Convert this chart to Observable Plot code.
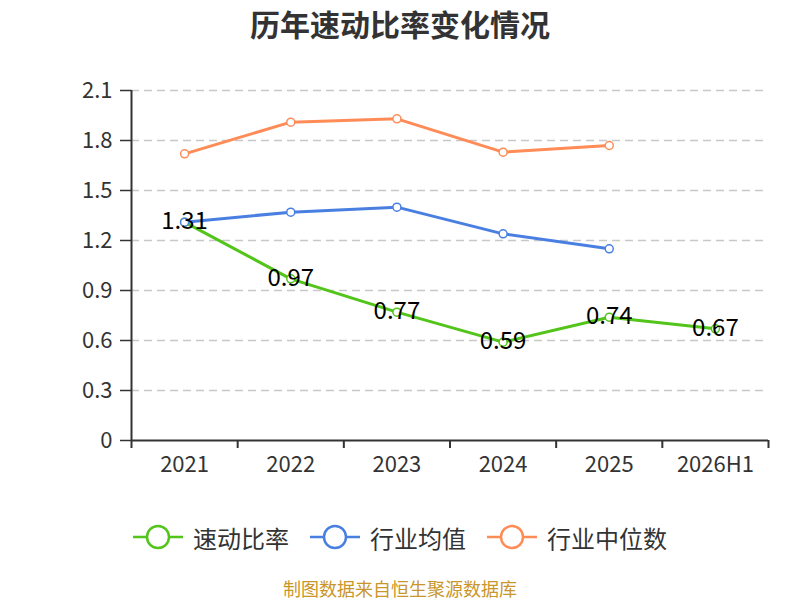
<!DOCTYPE html>
<html>
<head>
<meta charset="utf-8">
<script src="https://cdn.jsdelivr.net/npm/d3@7"></script>
<script src="https://cdn.jsdelivr.net/npm/@observablehq/plot@0.6"></script>
<style>
  html, body { margin: 0; padding: 0; background: #fff; }
  body { width: 800px; height: 600px; position: relative; overflow: hidden; font-family: "Noto Sans CJK SC", "Noto Sans", sans-serif; }
  #title { position: absolute; left: 0; top: 0; width: 800px; text-align: center; font-size: 30px; font-weight: bold; color: #333; line-height: 46px; }
  #chart { position: absolute; left: 0; top: 0; }
  #legend { position: absolute; left: 0; top: 520px; width: 800px; height: 34px; }
  .item { position: absolute; top: 0; height: 34px; display: flex; align-items: center; font-size: 24px; color: #333; white-space: nowrap; }
  .item svg { margin-right: 10px; }
  #caption { position: absolute; left: 0; top: 576px; width: 800px; text-align: center; font-size: 18px; color: #c9962b; line-height: 24px; }
</style>
</head>
<body>
<div id="title">历年速动比率变化情况</div>
<div id="chart"></div>
<div id="legend"></div>
<div id="caption">制图数据来自恒生聚源数据库</div>
<script>
const categories = ["2021", "2022", "2023", "2024", "2025", "2026H1"];
const quickRatio = [1.31, 0.97, 0.77, 0.59, 0.74, 0.67];
const industryMean = [1.31, 1.37, 1.40, 1.24, 1.15];
const industryMedian = [1.72, 1.91, 1.93, 1.73, 1.77];
const yTicks = [0, 0.3, 0.6, 0.9, 1.2, 1.5, 1.8, 2.1];
const seriesNames = ["速动比率", "行业均值", "行业中位数"];
const colors = ["#52c41a", "#4a7fe2", "#ff8c57"];

const toRows = (vals, name) => vals.map((v, i) => ({ i, v, name }));
const green = toRows(quickRatio, seriesNames[0]);
const blue = toRows(industryMean, seriesNames[1]);
const orange = toRows(industryMedian, seriesNames[2]);
const boundaries = d3.range(categories.length + 1).map(k => k - 0.5);

const font = "'Noto Sans CJK SC', 'Noto Sans', sans-serif";

const chart = Plot.plot({
  width: 800,
  height: 500,
  marginTop: 90,
  marginBottom: 60,
  marginLeft: 131,
  marginRight: 32,
  style: { fontFamily: font, background: "transparent", overflow: "visible" },
  x: { type: "linear", domain: [-0.5, categories.length - 0.5] },
  y: { domain: [0, 2.1] },
  marks: [
    Plot.gridY(yTicks.filter(t => t > 0), { stroke: "#c8c8c8", strokeOpacity: 1, strokeDasharray: "8,5", strokeWidth: 1.5 }),
    Plot.axisY({ ticks: yTicks, tickSize: 11, tickPadding: 8, fontSize: 22, color: "#333", stroke: "#333", strokeWidth: 1.5, tickFormat: d => d === 0 ? "0" : d.toFixed(1), label: null }),
    Plot.ruleX([-0.5], { y1: 0, y2: 2.1, stroke: "#333", strokeWidth: 2 }),
    Plot.axisX({ ticks: boundaries, tickSize: 8, tickFormat: () => "", stroke: "#333", strokeWidth: 2, label: null }),
    Plot.ruleY([0], { stroke: "#333", strokeWidth: 2 }),
    Plot.axisX({ ticks: d3.range(categories.length), tickSize: 0, tickPadding: 16, fontSize: 22, color: "#333", tickFormat: i => categories[i], label: null }),
    Plot.line(green, { x: "i", y: "v", stroke: colors[0], strokeWidth: 3 }),
    Plot.dot(green, { x: "i", y: "v", r: 4, fill: "#fff", stroke: colors[0], strokeWidth: 1.5 }),
    Plot.line(blue, { x: "i", y: "v", stroke: colors[1], strokeWidth: 3 }),
    Plot.dot(blue, { x: "i", y: "v", r: 4, fill: "#fff", stroke: colors[1], strokeWidth: 1.5 }),
    Plot.line(orange, { x: "i", y: "v", stroke: colors[2], strokeWidth: 3 }),
    Plot.dot(orange, { x: "i", y: "v", r: 4, fill: "#fff", stroke: colors[2], strokeWidth: 1.5 }),
    Plot.text(green, { x: "i", y: "v", text: d => d.v.toFixed(2), fontSize: 24, fill: "#000", textAnchor: "middle", dy: -1 })
  ]
});
document.getElementById("chart").appendChild(chart);

// Legend
const legend = document.getElementById("legend");
const lefts = [133, 310, 487];
seriesNames.forEach((name, k) => {
  const item = document.createElement("div");
  item.className = "item";
  item.style.left = lefts[k] + "px";
  item.innerHTML = `<svg width="50" height="26" viewBox="0 0 50 26"><line x1="0" y1="13" x2="50" y2="13" stroke="${colors[k]}" stroke-width="2.5"/><circle cx="25" cy="13" r="11" fill="#fff" stroke="${colors[k]}" stroke-width="2.5"/></svg><span>${name}</span>`;
  legend.appendChild(item);
});
</script>
</body>
</html>
